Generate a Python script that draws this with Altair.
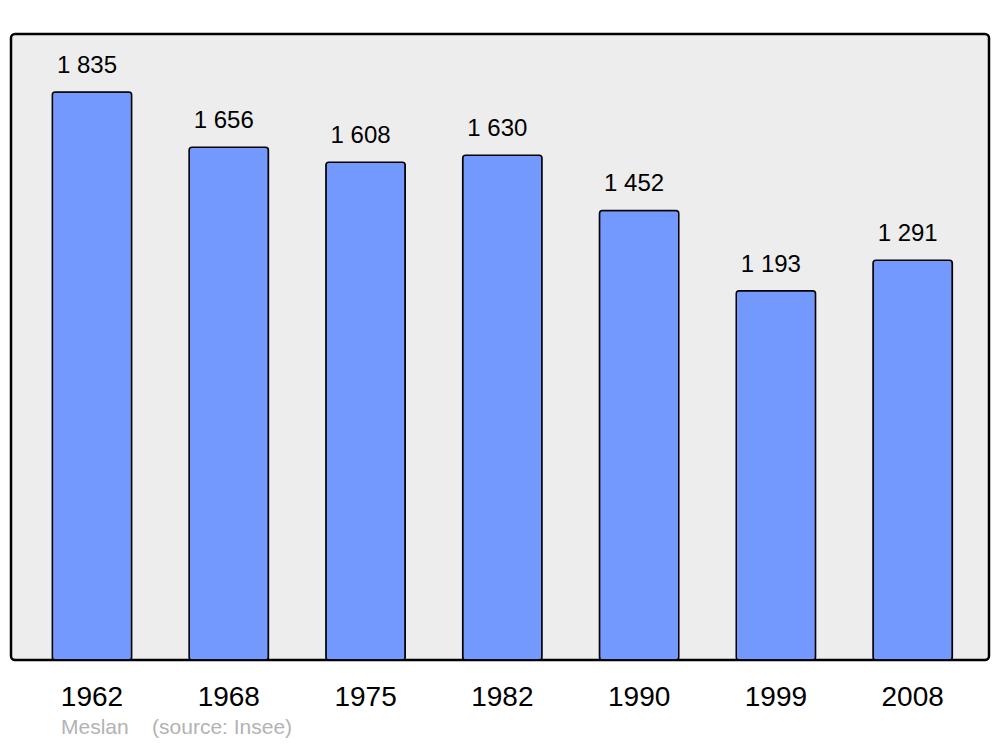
import altair as alt
import pandas as pd

years = ["1962", "1968", "1975", "1982", "1990", "1999", "2008"]
population = [1835, 1656, 1608, 1630, 1452, 1193, 1291]
labels = ["1 835", "1 656", "1 608", "1 630", "1 452", "1 193", "1 291"]

df = pd.DataFrame({"year": years, "pop": population, "label": labels})

FONT = "Liberation Sans"

x = alt.X("year:O", sort=years,
          scale=alt.Scale(paddingInner=0.42, paddingOuter=0.285, align=0.53),
          axis=alt.Axis(title=None, labelAngle=0, domain=False, ticks=False, tickSize=0,
                        labelFont=FONT, labelFontSize=28, labelColor="black",
                        labelPadding=45, labelBaseline="alphabetic"))
y = alt.Y("pop:Q", scale=alt.Scale(domain=[0, 2022], nice=False, zero=True), axis=None)

bars = alt.Chart(df).mark_bar(color="#7399ff", stroke="black", strokeWidth=1.5,
                              cornerRadius=3).encode(x=x, y=y)
text = alt.Chart(df).mark_text(font=FONT, fontSize=24, color="black", baseline="alphabetic",
                               dy=-19, dx=-5).encode(x=x, y=y, text="label:N")

chart = (bars + text).properties(
    width=978, height=626,
    padding={"left": 3, "top": 26, "right": 3, "bottom": 79},
    autosize=alt.AutoSizeParams(type="none"),
    title=alt.TitleParams("Meslan\u00a0\u00a0\u00a0\u00a0(source: Insee)", orient="bottom",
                          anchor="start", dx=50, offset=6, color="#b3b3b3", fontSize=21,
                          font=FONT, fontWeight="normal"),
).configure(background="white").configure_view(
    fill="#ededed", stroke="black", strokeWidth=2.5, cornerRadius=4)

chart.save("out.html", embed_options={"renderer": "svg", "actions": False})
